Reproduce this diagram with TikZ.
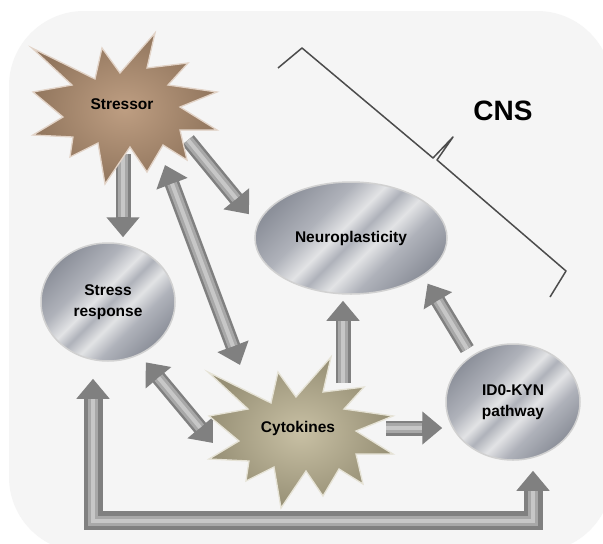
\documentclass[tikz,border=0pt]{standalone}
\usepackage{fontspec}
\setmainfont{Liberation Sans}
\usetikzlibrary{arrows.meta,shapes.geometric}

\definecolor{metaloscuro}{RGB}{140,144,154}
\definecolor{metalmedio}{RGB}{175,178,186}
\definecolor{metalclaro}{RGB}{226,227,229}
\definecolor{estresor}{RGB}{190,158,130}
\definecolor{estresoroscuro}{RGB}{92,70,50}
\definecolor{citoquina}{RGB}{200,192,164}
\definecolor{citoquinaoscuro}{RGB}{92,86,62}

\pgfdeclarehorizontalshading{metal}{100bp}{color(0bp)=(metaloscuro); color(25bp)=(metaloscuro);
  color(38bp)=(metalmedio); color(46bp)=(metalclaro); color(51bp)=(metalmedio);
  color(57bp)=(metalclaro); color(64bp)=(metalmedio); color(75bp)=(metaloscuro); color(100bp)=(metaloscuro)}

\pgfdeclarelayer{fondo}
\pgfdeclarelayer{flechas}
\pgfsetlayers{fondo,flechas,main}

\tikzset{
  nodo/.style={ellipse, shading=metal, shading angle=-45, draw=white!82!black, line width=1.5pt,
    font=\bfseries\fontsize{15.5}{21}\selectfont, align=center},
  texto/.style={font=\bfseries\fontsize{15.5}{21}\selectfont},
  flecha/.style={line width=15pt, draw=black!50, -{Triangle[length=20pt,width=32pt]},
    postaction={draw=black!34, line width=10pt, -, shorten >=20pt},
    postaction={draw=black!22, line width=4pt, -, shorten >=20pt}},
  flechadoble/.style={line width=15pt, draw=black!50, {Triangle[length=20pt,width=32pt]}-{Triangle[length=20pt,width=32pt]},
    postaction={draw=black!34, line width=10pt, -, shorten >=20pt, shorten <=20pt},
    postaction={draw=black!22, line width=4pt, -, shorten >=20pt, shorten <=20pt}},
}

% Estrella (centro, color, color oscuro, borde)
\newcommand\estrella[4]{%
  \begin{scope}[shift={#1}]
    \shade[inner color=#2, outer color=#2!55!#3, draw=#4, line width=1.3pt, line join=miter]
      (-90,-57) -- (-27,-26) -- (-20,-57) -- (-2,-32) -- (33,-72) -- (25,-37) -- (66,-42) -- (46,-20)
      -- (95,-13) -- (58,2) -- (95,25) -- (58,25) -- (65,55) -- (41,40) -- (25,67) -- (8,42)
      -- (-17,79) -- (-24,38) -- (-52,52) -- (-49,32) -- (-89,30) -- (-59,12) -- (-89,-13) -- (-50,-20) -- cycle;
  \end{scope}}

\begin{document}
\begin{tikzpicture}[x=1pt,y=-1pt]
  \useasboundingbox (0,0) rectangle (603,544);

  % Fondo
  \begin{pgfonlayer}{fondo}
    \fill[white] (0,0) rectangle (603,544);
    \fill[black!4, rounded corners=75pt] (9,11) rectangle (612,552);
  \end{pgfonlayer}

  % Estrellas
  \estrella{(122,105)}{estresor}{estresoroscuro}{estresor!45!white}
  \estrella{(298,429)}{citoquina}{citoquinaoscuro}{citoquina!45!white}
  \node[texto] (stressor) at (122,104) {Stressor};
  \node[texto] (cytokines) at (298,428) {Cytokines};

  % Elipses
  \node[nodo, minimum width=192pt, minimum height=112pt] (neuro) at (351,238) {Neuroplasticity};
  \node[nodo, minimum width=134pt, minimum height=118pt] (stress) at (108,302) {Stress\\response};
  \node[nodo, minimum width=134pt, minimum height=116pt] (ido) at (513,402) {ID0-KYN\\pathway};

  % CNS
  \draw[black!70, line width=1.5pt, line join=round]
    (278,68) -- (302,48) -- (433,158) -- (453,137) -- (437,160) -- (566,271) -- (550,297);
  \node[font=\bfseries\fontsize{28}{32}\selectfont] (cns) at (503,111) {CNS};

  % Flechas
  \begin{pgfonlayer}{flechas}
    \draw[flecha] ([shift={(1,50)}]stressor.center) -- ([xshift=15pt,yshift=5pt]stress.north);
    \draw[flecha] ([shift={(66,36)}]stressor.center) -- ([shift={(-12,-3)}]neuro.167);
    \draw[flechadoble] ([shift={(43,61)}]stressor.center) -- ([shift={(-58,-63)}]cytokines.center);
    \draw[flechadoble] ([shift={(5,8)}]stress.-58) -- ([shift={(-85,15)}]cytokines.center);
    \draw[flecha] ([shift={(45,-45)}]cytokines.center) -- ([xshift=-8pt,yshift=-6pt]neuro.south);
    \draw[flecha] ([shift={(88,0)}]cytokines.center) -- ([xshift=-3pt,yshift=-26pt]ido.west);
    \draw[flecha] ([shift={(-5,-6)}]ido.131) -- ([shift={(9,5)}]neuro.-31);
    \draw[flechadoble, line width=19pt, postaction={line width=13pt}, postaction={line width=5pt}]
      ([xshift=-15pt,yshift=-17pt]stress.south) -- ++(0,142) -| ([xshift=20pt,yshift=-10pt]ido.south);
  \end{pgfonlayer}
\end{tikzpicture}
\end{document}
